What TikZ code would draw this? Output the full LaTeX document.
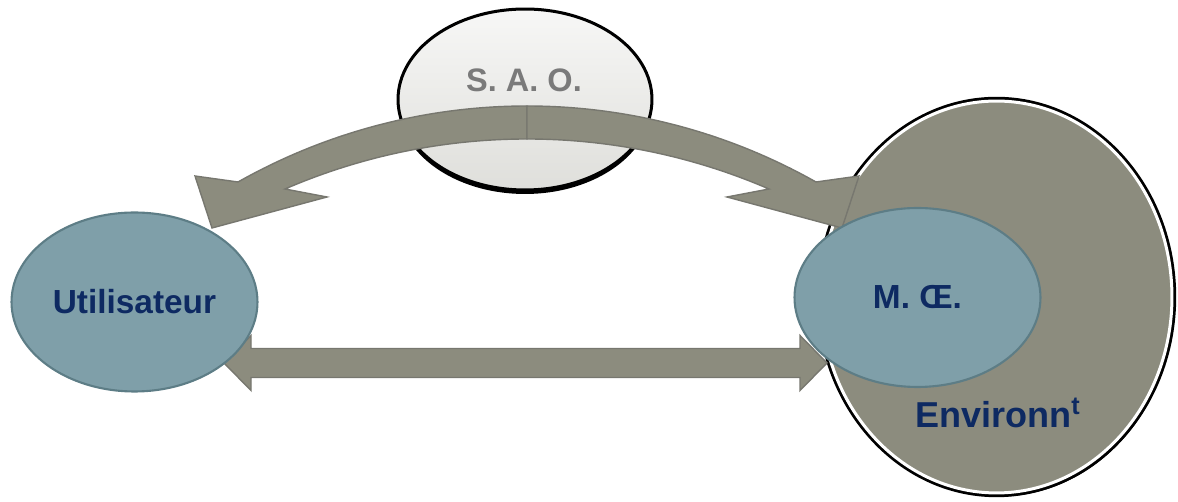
\documentclass[tikz,border=0pt]{standalone}
\usepackage{fontspec}
\setmainfont{Liberation Sans}
\usetikzlibrary{shapes.geometric}
\definecolor{Slate}{HTML}{7F9FA9}
\definecolor{SlateLine}{HTML}{5D7D86}
\definecolor{Khaki}{HTML}{8C8C7E}
\definecolor{KhakiLine}{HTML}{77776F}
\definecolor{Navy}{HTML}{0E2A62}
\definecolor{SaoText}{HTML}{7A7A7A}

\begin{document}
\begin{tikzpicture}[x=0.02cm, y=-0.02cm, line join=miter]
   \useasboundingbox (0,0) rectangle (1178,502);
   \tikzstyle{main}=[ellipse, inner sep=0pt, minimum width=4.92cm, minimum height=3.58cm, fill=Slate, draw=SlateLine, line width=1.2pt, text=Navy, font=\bfseries\fontsize{19}{23}\selectfont]
   \tikzstyle{band}=[fill=Khaki, draw=KhakiLine, line width=0.8pt]
   \node[ellipse, minimum width=7.02cm, minimum height=7.84cm, fill=Khaki, draw=white, line width=0.06cm, preaction={fill=black, transform canvas={xshift=0.05cm, yshift=-0.07cm}}, preaction={draw=black, line width=0.17cm}] (env) at (996.5,297) {};
   \node[text=Navy, font=\bfseries\fontsize{20.5}{24}\selectfont, anchor=base] (envtext) at (998,428) {Environn\textsuperscript{t}};
   \node[ellipse, minimum width=5.08cm, minimum height=3.62cm, top color=white!93!Khaki, bottom color=white!72!Khaki, draw=black, line width=0.06cm, preaction={fill=black, transform canvas={yshift=-0.08cm}}] (sao) at (525,99.5) {};
   \node[text=SaoText, font=\bfseries\fontsize{18.5}{22}\selectfont] (saotext) at (524,80) {S. A. O.};
   \foreach \s in {1,-1} {
      \begin{scope}[shift={(527,0)}, xscale=\s]
         \path[band] (0,106) .. controls (-101.3,106) and (-200.8,132.2) .. (-289,182) -- (-332,176) -- (-315,228) -- (-200,197) -- (-242,189) .. controls (-165.5,156) and (-83.3,139) .. (0,139) -- cycle;
      \end{scope}
   }
   \coordinate (lt) at (224,363);
   \coordinate (rt) at (827,363);
   \path[band] (lt) -- (251,335.5) -- (251,348.5) -- (800,348.5) -- (800,335.5) -- (rt) -- (800,390.5) -- (800,377.5) -- (251,377.5) -- (251,390.5) -- cycle;
   \node[main] (user) at (134.5,302) {Utilisateur};
   \node[main] (moe) at (917.5,297.5) {M. Œ.};
\end{tikzpicture}
\end{document}
